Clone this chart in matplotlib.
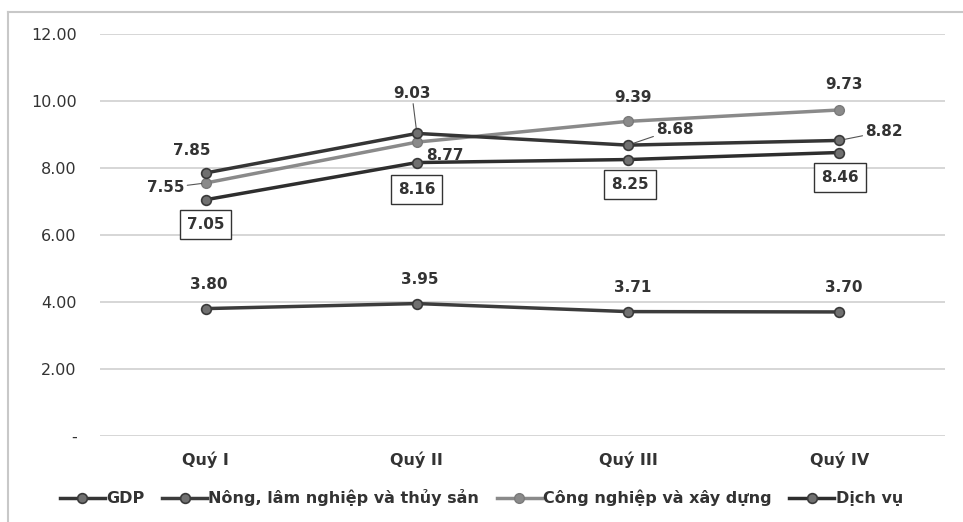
import matplotlib.pyplot as plt
from matplotlib.lines import Line2D

quarters = ["Quý I", "Quý II", "Quý III", "Quý IV"]
gdp = [7.85, 9.03, 8.68, 8.82]
nong_nghiep = [3.80, 3.95, 3.71, 3.70]
cong_nghiep = [7.55, 8.77, 9.39, 9.73]
dich_vu = [7.05, 8.16, 8.25, 8.46]

plt.rcParams['font.family'] = ['DejaVu Sans']

fig = plt.figure(figsize=(9.63, 5.22), dpi=100)
ax = fig.add_axes([0.104, 0.165, 0.877, 0.770])

x = range(len(quarters))
mk = dict(marker='o', markersize=7, markerfacecolor='#707070', markeredgecolor='#3a3a3a',
          markeredgewidth=1.2)
ax.plot(x, gdp, color='#353535', lw=2.5, label="GDP", **mk, zorder=4)
ax.plot(x, nong_nghiep, color='#3c3c3c', lw=2.5, label="Nông, lâm nghiệp và thủy sản", **mk, zorder=4)
ax.plot(x, cong_nghiep, color='#8a8a8a', lw=2.5, label="Công nghiệp và xây dựng",
        marker='o', markersize=7, markerfacecolor='#8a8a8a', markeredgecolor='#7a7a7a', zorder=3)
ax.plot(x, dich_vu, color='#2e2e2e', lw=2.5, label="Dịch vụ", **mk, zorder=4)

lab = dict(textcoords='offset pixels', ha='center', va='center', fontsize=11,
           fontweight='bold', color='#333333')
lead = dict(arrowstyle='-', color='#555555', lw=0.8, shrinkA=0, shrinkB=3)

# GDP labels
ax.annotate(f"{gdp[0]:.2f}", (0, gdp[0]), xytext=(-14, 22), **lab)
ax.annotate(f"{gdp[1]:.2f}", (1, gdp[1]), xytext=(-5, 40), arrowprops=lead, **lab)
ax.annotate(f"{gdp[2]:.2f}", (2, gdp[2]), xytext=(47, 16), arrowprops=lead, **lab)
ax.annotate(f"{gdp[3]:.2f}", (3, gdp[3]), xytext=(45, 9), arrowprops=lead, **lab)

# Cong nghiep labels
ax.annotate(f"{cong_nghiep[0]:.2f}", (0, cong_nghiep[0]), xytext=(-40, -5), arrowprops=lead, **lab)
ax.annotate(f"{cong_nghiep[1]:.2f}", (1, cong_nghiep[1]), xytext=(28, -13), **lab)
ax.annotate(f"{cong_nghiep[2]:.2f}", (2, cong_nghiep[2]), xytext=(5, 24), **lab)
ax.annotate(f"{cong_nghiep[3]:.2f}", (3, cong_nghiep[3]), xytext=(5, 25), **lab)

# Dich vu labels (boxed)
box = dict(boxstyle='square,pad=0.45', fc='white', ec='#333333', lw=1)
offs = [(0, -25), (0, -27), (2, -25), (1, -25)]
for i, v in enumerate(dich_vu):
    ax.annotate(f"{v:.2f}", (i, v), xytext=offs[i], bbox=box, **lab)

# Nong nghiep labels
for i, v in enumerate(nong_nghiep):
    ax.annotate(f"{v:.2f}", (i, v), xytext=(3 + (i >= 2) * 2, 24), **lab)

ax.set_xlim(-0.5, 3.5)
ax.set_ylim(0, 12)
ax.set_yticks([0, 2, 4, 6, 8, 10, 12])
ax.set_yticklabels(["-", "2.00", "4.00", "6.00", "8.00", "10.00", "12.00"])
ax.set_xticks(list(x))
ax.set_xticklabels(quarters, fontweight='bold')
ax.tick_params(axis='both', length=0, labelsize=11.5, colors='#333333')
ax.tick_params(axis='y', pad=17)
ax.tick_params(axis='x', pad=11)
ax.grid(axis='y', color='#d0d0d0', lw=1.2)
ax.set_axisbelow(True)
for s in ax.spines.values():
    s.set_visible(False)

handles = [
    Line2D([], [], color='#353535', lw=2.5, **mk),
    Line2D([], [], color='#3c3c3c', lw=2.5, **mk),
    Line2D([], [], color='#8a8a8a', lw=2.5, marker='o', markersize=7,
           markerfacecolor='#8a8a8a', markeredgecolor='#7a7a7a'),
    Line2D([], [], color='#2e2e2e', lw=2.5, **mk),
]
names = ["GDP", "Nông, lâm nghiệp và thủy sản", "Công nghiệp và xây dựng", "Dịch vụ"]
fig.legend(handles, names, loc='center', bbox_to_anchor=(0.5, 0.046), ncol=4,
           frameon=False, handlelength=2.8, handletextpad=0.1, columnspacing=1.1,
           prop={'size': 11.5, 'weight': 'bold'}, labelcolor='#333333')

# light outer frame
fig.add_artist(Line2D([0.008, 1.0], [0.977, 0.977], color='#c8c8c8', lw=1.5))
fig.add_artist(Line2D([0.008, 0.008], [0.0, 0.977], color='#c8c8c8', lw=1.5))

fig.savefig("out.png", dpi=100)
